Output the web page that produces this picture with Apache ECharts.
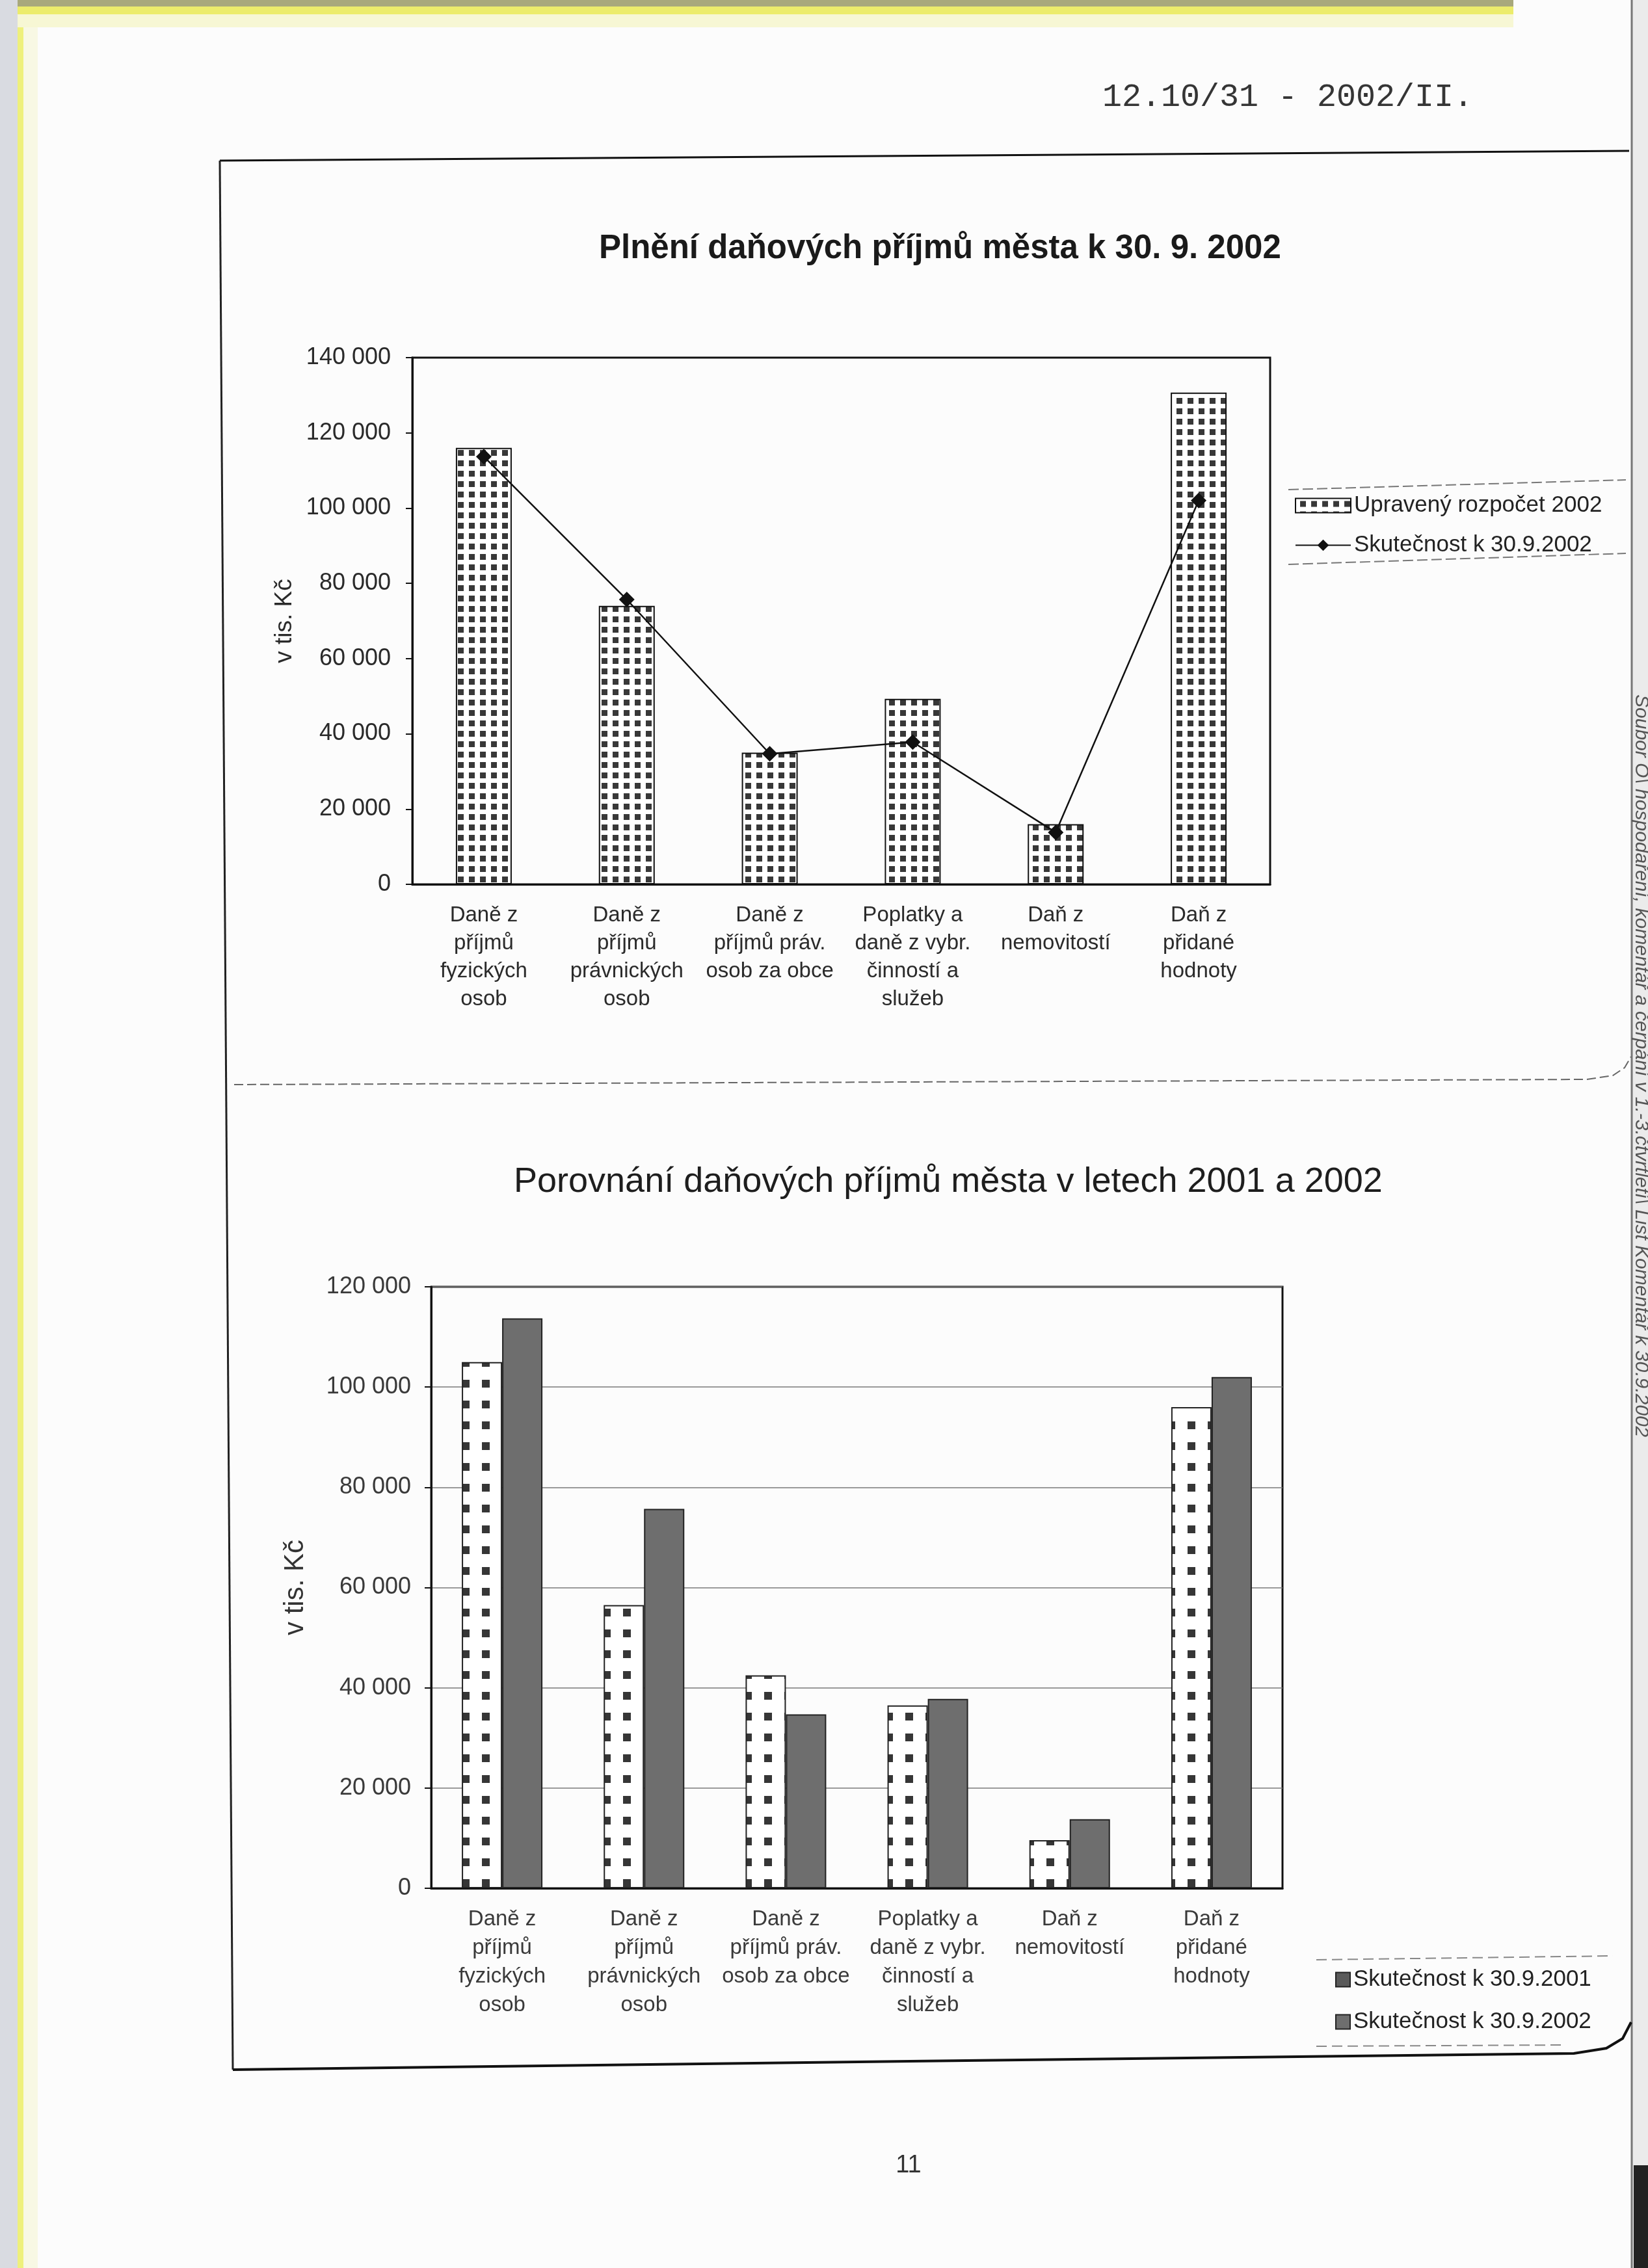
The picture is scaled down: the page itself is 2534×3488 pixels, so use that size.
<!DOCTYPE html>
<html><head><meta charset="utf-8">
<script src="https://cdn.jsdelivr.net/npm/echarts/dist/echarts.min.js"></script>
<style>
html,body{margin:0;padding:0;background:#fcfcfc;}
#c1,#c2{position:absolute;left:0;top:0;width:2534px;height:3488px;}
</style>
</head><body>
<div id="c1"></div><div id="c2"></div>
<script>
// ---- data ----
const categories = [
  "Daně z\npříjmů\nfyzických\nosob",
  "Daně z\npříjmů\nprávnických\nosob",
  "Daně z\npříjmů práv.\nosob za obce",
  "Poplatky a\ndaně z vybr.\nčinností a\nslužeb",
  "Daň z\nnemovitostí",
  "Daň z\npřidané\nhodnoty"
];
const rozpocet2002   = [116000, 74000, 35000, 49300, 16000, 130700];
const skutecnost2002 = [113700, 75700, 34700, 37800, 13800, 102000];
const skutecnost2001 = [105000, 56500, 42500, 36500, 9600, 96000];
const yTicks1 = [0, 20000, 40000, 60000, 80000, 100000, 120000, 140000];
const yTicks2 = [0, 20000, 40000, 60000, 80000, 100000, 120000];
const seriesNames1 = ["Upravený rozpočet 2002", "Skutečnost k 30.9.2002"];
const seriesNames2 = ["Skutečnost k 30.9.2001", "Skutečnost k 30.9.2002"];
const title1 = "Plnění daňových příjmů města k 30. 9. 2002";
const title2 = "Porovnání daňových příjmů města v letech 2001 a 2002";
const axisName = "v tis. Kč";

const F = '"Liberation Sans", Arial, sans-serif';
const fmt = v => String(v).replace(/\B(?=(\d{3})+(?!\d))/g, ' ');

function tile(w, h, sq, ox, oy, ink) {
  const c = document.createElement('canvas');
  c.width = w; c.height = h;
  const g = c.getContext('2d');
  g.fillStyle = '#ffffff'; g.fillRect(0, 0, w, h);
  g.fillStyle = ink;
  g.fillRect(ox, oy, sq, sq);
  if (ox + sq > w) g.fillRect(ox - w, oy, sq, sq);
  return c;
}
const pat1 = { image: tile(17, 16, 9, 7, 4, '#383838'), repeat: 'repeat' };
const pat2 = { image: tile(31, 32, 12, 28, 10, '#363636'), repeat: 'repeat' };

// ---- chart 1 (plus page decorations) ----
const c1 = echarts.init(document.getElementById('c1'), null, {renderer: 'canvas'});
c1.setOption({
  backgroundColor: '#fcfcfc',
  animation: false,
  title: {
    text: title1, left: 921, top: 357, padding: 0,
    textStyle: {fontFamily: F, fontSize: 51, fontWeight: 'bold', color: '#1a1a1a'}
  },
  grid: {left: 634, top: 550, width: 1319, height: 810, show: true, borderColor: '#111', borderWidth: 3},
  xAxis: {
    type: 'category', data: categories,
    axisLine: {lineStyle: {color: '#111', width: 3}},
    axisTick: {show: false},
    axisLabel: {interval: 0, margin: 26, fontFamily: F, fontSize: 33, lineHeight: 43, color: '#2a2a2a'}
  },
  yAxis: {
    type: 'value', min: yTicks1[0], max: yTicks1[yTicks1.length - 1], interval: yTicks1[1] - yTicks1[0],
    name: axisName, nameLocation: 'middle', nameGap: 178, nameRotate: 90,
    nameTextStyle: {fontFamily: F, fontSize: 37, color: '#2a2a2a'},
    axisLine: {show: true, lineStyle: {color: '#111', width: 3}},
    axisTick: {show: true, length: 10, lineStyle: {color: '#111', width: 2}},
    splitLine: {show: false},
    axisLabel: {margin: 33, fontFamily: F, fontSize: 36, color: '#2a2a2a', formatter: fmt}
  },
  legend: {
    orient: 'vertical', left: 1991, top: 760, padding: 0,
    itemWidth: 85, itemHeight: 22, itemGap: 26,
    textStyle: {fontFamily: F, fontSize: 35, color: '#222'},
    data: [{name: seriesNames1[0], icon: 'rect'}, {name: seriesNames1[1]}]
  },
  series: [
    {name: seriesNames1[0], type: 'bar', data: rozpocet2002, barWidth: 86,
     itemStyle: {color: pat1, borderColor: '#111', borderWidth: 2}},
    {name: seriesNames1[1], type: 'line', data: skutecnost2002, symbol: 'diamond', symbolSize: 24,
     lineStyle: {color: '#111', width: 2.5}, itemStyle: {color: '#111'}}
  ],
  graphic: [
    // scanned page edges
    {type: 'rect', silent: true, z: -10, shape: {x: 0, y: 0, width: 27, height: 3488}, style: {fill: '#d9dbe1'}},
    {type: 'rect', silent: true, z: -10, shape: {x: 27, y: 0, width: 9, height: 3488}, style: {fill: '#eef07c'}},
    {type: 'rect', silent: true, z: -10, shape: {x: 36, y: 0, width: 22, height: 3488}, style: {fill: '#f8f8e4'}},
    {type: 'rect', silent: true, z: -10, shape: {x: 27, y: 0, width: 2300, height: 10}, style: {fill: '#a8a87c'}},
    {type: 'rect', silent: true, z: -10, shape: {x: 27, y: 10, width: 2300, height: 12}, style: {fill: '#ecec6c'}},
    {type: 'rect', silent: true, z: -10, shape: {x: 27, y: 22, width: 2300, height: 20}, style: {fill: '#f7f7d4'}},
    {type: 'rect', silent: true, z: -10, shape: {x: 2510, y: 0, width: 24, height: 3488}, style: {fill: '#ebebeb'}},
    {type: 'line', silent: true, shape: {x1: 2509, y1: 0, x2: 2509, y2: 3488}, style: {stroke: '#777', lineWidth: 3}},
    {type: 'rect', silent: true, shape: {x: 2512, y: 3330, width: 22, height: 158}, style: {fill: '#222'}},
    {type: 'text', silent: true, x: 2523, y: 1068, rotation: -Math.PI / 2,
     style: {text: 'Soubor O\\ hospodaření, komentář a čerpání v 1.-3.čtvrtletí\\ List Komentář k 30.9.2002',
             font: 'italic 30px "Liberation Sans"', fill: '#555', textVerticalAlign: 'middle'}},
    // document header and page number
    {type: 'text', silent: true, x: 1695, y: 150,
     style: {text: '12.10/31 - 2002/II.', font: '50px "Liberation Mono"', fill: '#353535', textVerticalAlign: 'middle'}},
    {type: 'text', silent: true, x: 1397, y: 3331,
     style: {text: '11', font: '38px "Liberation Sans"', fill: '#333', textAlign: 'center', textVerticalAlign: 'middle'}},
    // frame
    {type: 'polyline', silent: true, shape: {points: [[338, 247], [2505, 232]]}, style: {stroke: '#111', lineWidth: 3, fill: null}},
    {type: 'polyline', silent: true, shape: {points: [[338, 247], [358, 3183]]}, style: {stroke: '#222', lineWidth: 3, fill: null}},
    {type: 'polyline', silent: true, shape: {points: [[358, 3183], [1400, 3170], [2420, 3158], [2470, 3150], [2495, 3135], [2508, 3110]]},
     style: {stroke: '#111', lineWidth: 4, fill: null}},
    {type: 'polyline', silent: true, shape: {points: [[360, 1668], [2440, 1660], [2480, 1654], [2498, 1642], [2508, 1625]]},
     style: {stroke: '#666', lineWidth: 2, lineDash: [14, 6], fill: null}},
    // legend 1 box remnants
    {type: 'polyline', silent: true, shape: {points: [[1981, 753], [2500, 738]]}, style: {stroke: '#777', lineWidth: 2, lineDash: [16, 6], fill: null}},
    {type: 'polyline', silent: true, shape: {points: [[1981, 868], [2500, 851]]}, style: {stroke: '#777', lineWidth: 2, lineDash: [16, 6], fill: null}},
    // legend 2 box remnants
    {type: 'polyline', silent: true, shape: {points: [[2024, 3014], [2480, 3008]]}, style: {stroke: '#888', lineWidth: 2, lineDash: [16, 8], fill: null}},
    {type: 'polyline', silent: true, shape: {points: [[2024, 3147], [2400, 3145]]}, style: {stroke: '#888', lineWidth: 2, lineDash: [16, 8], fill: null}}
  ]
});

// ---- chart 2 ----
const c2 = echarts.init(document.getElementById('c2'), null, {renderer: 'canvas'});
c2.setOption({
  animation: false,
  title: {
    text: title2, left: 790, top: 1791, padding: 0,
    textStyle: {fontFamily: F, fontSize: 54, fontWeight: 'normal', color: '#1e1e1e'}
  },
  grid: {left: 663, top: 1979, width: 1309, height: 925, show: true, borderColor: '#111', borderWidth: 3},
  xAxis: {
    type: 'category', data: categories,
    axisLine: {lineStyle: {color: '#111', width: 3}},
    axisTick: {show: false},
    axisLabel: {interval: 0, margin: 26, fontFamily: F, fontSize: 33, lineHeight: 44, color: '#3a3a3a'}
  },
  yAxis: {
    type: 'value', min: yTicks2[0], max: yTicks2[yTicks2.length - 1], interval: yTicks2[1] - yTicks2[0],
    name: axisName, nameLocation: 'middle', nameGap: 188, nameRotate: 90,
    nameTextStyle: {fontFamily: F, fontSize: 42, color: '#333'},
    axisLine: {show: true, lineStyle: {color: '#111', width: 3}},
    axisTick: {show: true, length: 10, lineStyle: {color: '#111', width: 2}},
    splitLine: {show: true, lineStyle: {color: '#7a7a7a', width: 1.5}},
    axisLabel: {margin: 31, fontFamily: F, fontSize: 36, color: '#3a3a3a', formatter: fmt}
  },
  legend: {
    orient: 'vertical', left: 2053, top: 3027, padding: 0,
    itemWidth: 22, itemHeight: 22, itemGap: 30,
    textStyle: {fontFamily: F, fontSize: 35, color: '#222'},
    data: [
      {name: seriesNames2[0], icon: 'rect', itemStyle: {color: '#5a5a5a', borderColor: '#222', borderWidth: 2}},
      {name: seriesNames2[1], icon: 'rect'}
    ]
  },
  series: [
    {name: seriesNames2[0], type: 'bar', data: skutecnost2001, barWidth: 62, barGap: '0%',
     itemStyle: {color: pat2, borderColor: '#222', borderWidth: 2}},
    {name: seriesNames2[1], type: 'bar', data: skutecnost2002, barWidth: 62, barGap: '0%',
     itemStyle: {color: '#6e6e6e', borderColor: '#222', borderWidth: 2}}
  ]
});
</script>
</body></html>
